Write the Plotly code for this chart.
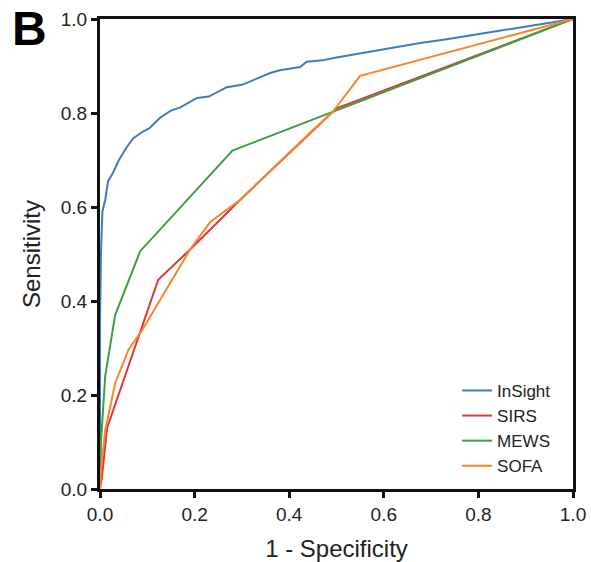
import plotly.graph_objects as go

# ROC curves: false positive rate (1 - specificity) vs. true positive rate (sensitivity)
insight_fpr = [0, 0, 0.002, 0.005, 0.011, 0.017, 0.027, 0.04, 0.055, 0.07, 0.09, 0.105,
               0.127, 0.15, 0.17, 0.205, 0.23, 0.268, 0.30, 0.338, 0.36, 0.38, 0.423,
               0.437, 0.47, 0.50, 0.556, 0.592, 0.65, 0.677, 0.733, 0.8, 0.873, 0.93, 1.0]
insight_tpr = [0, 0.35, 0.5, 0.59, 0.615, 0.655, 0.672, 0.70, 0.725, 0.746, 0.76, 0.768,
               0.79, 0.805, 0.812, 0.832, 0.835, 0.855, 0.86, 0.876, 0.885, 0.891, 0.898,
               0.909, 0.912, 0.918, 0.928, 0.935, 0.944, 0.949, 0.957, 0.968, 0.98, 0.99, 1.0]

sirs_fpr = [0, 0.004, 0.015, 0.123, 0.19, 0.296, 0.5, 1.0]
sirs_tpr = [0, 0.026, 0.13, 0.445, 0.509, 0.615, 0.81, 1.0]

mews_fpr = [0, 0.002, 0.011, 0.032, 0.085, 0.28, 1.0]
mews_tpr = [0, 0.1, 0.24, 0.37, 0.506, 0.72, 1.0]

sofa_fpr = [0, 0.002, 0.011, 0.032, 0.06, 0.089, 0.19, 0.233, 0.296, 0.45, 0.49, 0.55, 1.0]
sofa_tpr = [0, 0.04, 0.125, 0.225, 0.296, 0.338, 0.509, 0.568, 0.615, 0.764, 0.80, 0.879, 1.0]

tick_vals = [0.0, 0.2, 0.4, 0.6, 0.8, 1.0]
tick_text = ["0.0", "0.2", "0.4", "0.6", "0.8", "1.0"]

series = [
    ("InSight", insight_fpr, insight_tpr, "#3d7cc4"),
    ("SIRS", sirs_fpr, sirs_tpr, "#d93a3a"),
    ("MEWS", mews_fpr, mews_tpr, "#3e9e45"),
    ("SOFA", sofa_fpr, sofa_tpr, "#f9862c"),
]

FONT = "Liberation Sans, Arial, Helvetica, sans-serif"

fig = go.Figure()
for name, fx, fy, color in series:
    fig.add_trace(go.Scatter(x=fx, y=fy, mode="lines", name=name,
                             line=dict(color=color, width=2)))

axis_common = dict(
    range=[0, 1],
    tickvals=tick_vals,
    ticktext=tick_text,
    showgrid=False,
    zeroline=False,
    showline=True,
    mirror=True,
    linecolor="#111111",
    linewidth=3,
    ticks="outside",
    ticklen=6,
    tickwidth=2.5,
    tickcolor="#111111",
    automargin=False,
    tickfont=dict(family=FONT, size=19, color="#222222"),
)

fig.update_xaxes(**axis_common,
                 title=dict(text="1 - Specificity", standoff=19,
                            font=dict(family=FONT, size=24, color="#222222")))
fig.update_yaxes(**axis_common,
                 title=dict(text="Sensitivity", standoff=14,
                            font=dict(family=FONT, size=24, color="#222222")))

fig.add_annotation(text="<b>B</b>", xref="paper", yref="paper", x=-0.19, y=1.04,
                   xanchor="left", yanchor="top", showarrow=False,
                   font=dict(family=FONT, size=48, color="#000000"))

fig.update_layout(
    width=591, height=562,
    margin=dict(l=100, r=18, t=19, b=73, autoexpand=False),
    paper_bgcolor="white",
    plot_bgcolor="white",
    legend=dict(x=0.755, y=0.247, xanchor="left", yanchor="top",
                font=dict(family=FONT, size=17, color="#222222"),
                bgcolor="rgba(0,0,0,0)"),
)

fig.write_html("out.html")
